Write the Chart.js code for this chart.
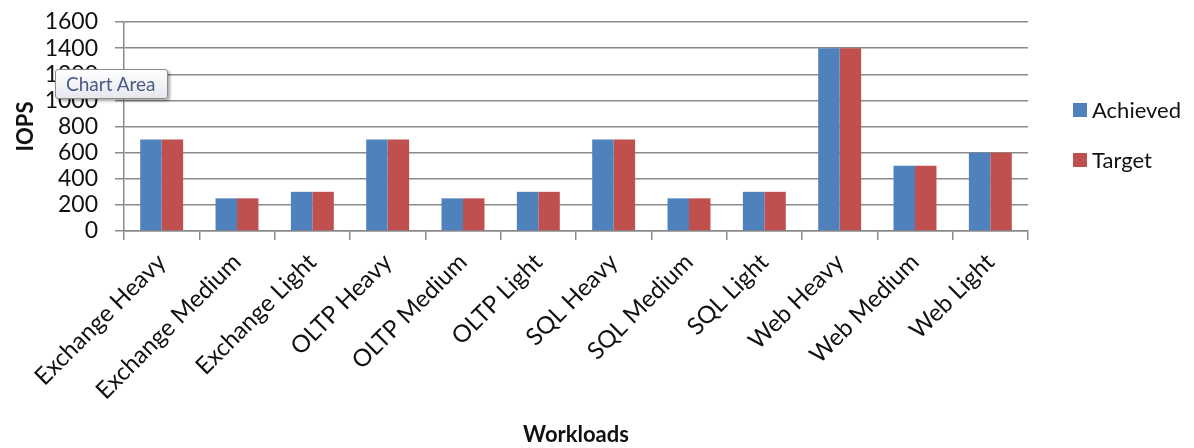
<!DOCTYPE html>
<html>
<head>
<meta charset="utf-8">
<script src="https://cdn.jsdelivr.net/npm/chart.js@4"></script>
<style>
  html, body { margin: 0; padding: 0; background: #fff; }
  #wrap { position: relative; width: 1194px; height: 448px; }
  #tip {
    position: absolute; left: 55px; top: 69px; width: 92px; padding: 2px 9px 3px 10px; line-height: 23px;
    font: 19px Lato, "Open Sans", sans-serif; color: #4a5a86; white-space: nowrap;
    background: linear-gradient(#ffffff, #e6e8ee); border: 1px solid #8c8c8c;
    border-radius: 3px; box-shadow: 2px 2px 3px rgba(0,0,0,0.35);
  }
</style>
</head>
<body>
<div id="wrap">
  <canvas id="c" width="1194" height="448"></canvas>
  <div id="tip">Chart Area</div>
</div>
<script>
const categories = ["Exchange Heavy", "Exchange Medium", "Exchange Light", "OLTP Heavy", "OLTP Medium", "OLTP Light",
                    "SQL Heavy", "SQL Medium", "SQL Light", "Web Heavy", "Web Medium", "Web Light"];
const achieved = [700, 250, 300, 700, 250, 300, 700, 250, 300, 1400, 500, 600];
const target   = [700, 250, 300, 700, 250, 300, 700, 250, 300, 1400, 500, 600];
const yTicks = [0, 200, 400, 600, 800, 1000, 1200, 1400, 1600];

const FONT = 'Lato, "Open Sans", sans-serif';
const GRID = "#8a8a8a";

// legend drawn by hand, to the right of the plot
const sideLegend = {
  id: "sideLegend",
  afterDraw(chart) {
    const ctx = chart.ctx;
    chart.data.datasets.forEach((ds, i) => {
      const y = 110 + i * 50;
      ctx.fillStyle = ds.backgroundColor;
      ctx.fillRect(1073, y - 7, 14, 14);
      ctx.fillStyle = "#111";
      ctx.font = "22px " + FONT;
      ctx.textBaseline = "middle";
      ctx.textAlign = "left";
      ctx.fillText(ds.label, 1092, y + 1);
    });
  }
};

new Chart(document.getElementById("c"), {
  type: "bar",
  data: {
    labels: categories,
    datasets: [
      { label: "Achieved", data: achieved, backgroundColor: "#4F81BD" },
      { label: "Target", data: target, backgroundColor: "#C0504D" }
    ]
  },
  options: {
    responsive: false,
    animation: false,
    layout: { padding: { top: 22, right: 166, left: 13, bottom: 0 } },
    datasets: { bar: { categoryPercentage: 0.57, barPercentage: 1.0 } },
    plugins: { legend: { display: false }, tooltip: { enabled: false } },
    scales: {
      x: {
        offset: true,
        grid: { offset: true, drawOnChartArea: false, color: GRID, lineWidth: 1.5, tickLength: 9 },
        border: { color: GRID, width: 1.5 },
        ticks: { color: "#111", font: { family: FONT, size: 24 }, minRotation: 45, maxRotation: 45, padding: 8, autoSkip: false },
        title: { display: true, text: "Workloads", color: "#111", font: { family: FONT, size: 22, weight: "bold" }, padding: { top: 0, bottom: 0 } },
        afterFit(scale) { scale.height = 448 - 231; scale.paddingLeft = 0; scale.paddingRight = 0; }
      },
      y: {
        min: 0, max: 1600,
        afterBuildTicks(scale) { scale.ticks = yTicks.map(v => ({ value: v })); },
        grid: { color: GRID, lineWidth: 1.5, tickLength: 9 },
        border: { color: GRID, width: 1.5 },
        ticks: { color: "#111", font: { family: FONT, size: 23 }, padding: 17, autoSkip: false, callback: v => String(v) },
        title: { display: true, text: "IOPS", color: "#111", font: { family: FONT, size: 22, weight: "bold" }, padding: { top: 0, bottom: 2 } },
        afterFit(scale) { scale.width = 111; scale.paddingTop = 0; scale.paddingBottom = 0; }
      }
    }
  },
  plugins: [sideLegend]
});
</script>
</body>
</html>
